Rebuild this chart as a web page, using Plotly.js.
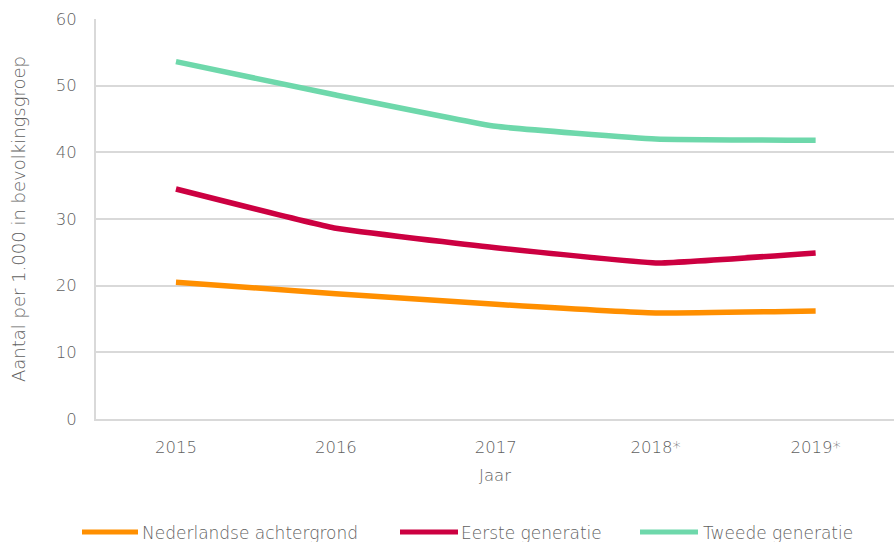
<!DOCTYPE html>
<html><head><meta charset="utf-8">
<script src="https://cdn.plot.ly/plotly-3.0.1.min.js"></script>
<style>body{margin:0}#c{width:894px;height:542px}</style>
</head><body><div id="c"></div>
<script>
const years = ['2015','2016','2017','2018*','2019*'];
const nederlandse = [20.5, 18.8, 17.2, 15.9, 16.2];
const eerste = [34.5, 28.6, 25.7, 23.4, 24.9];
const tweede = [53.6, 48.6, 43.9, 42.0, 41.8];
const names = ['Nederlandse achtergrond','Eerste generatie','Tweede generatie'];
const colors = ['#FF8F00','#CC0041','#6ED8AB'];
const series = [nederlandse, eerste, tweede];
const font = '"DejaVu Sans", sans-serif';
const txt = '#5f5f5f';
const W = 200;
const traces = series.map((s,i)=>({
  x: years, y: s, name: names[i], type:'scatter', mode:'lines', showlegend:false,
  line:{color:colors[i], width:5.5, shape:'spline', smoothing:0.3}
}));
// legend geometry (pixels)
const L = 96, PW = 798, T = 19, PH = 400;
const px = v => (v - L) / PW;
const py = v => (T + PH - v) / PH;
const legLine = [[82,138],[400,458],[640,698]];
const legText = [141, 460, 702];
const legY = 532;
const shapes = legLine.map((l,i)=>({type:'line', xref:'paper', yref:'paper',
  x0:px(l[0]), x1:px(l[1]), y0:py(legY), y1:py(legY), line:{color:colors[i], width:5}}));
const annotations = names.map((n,i)=>({text:n, xref:'paper', yref:'paper', x:px(legText[i]), y:py(legY+1),
  xanchor:'left', yanchor:'middle', showarrow:false, borderpad:0,
  font:{family:font, size:17, color:txt, weight:W}}));
Plotly.newPlot('c', traces, {
  width:894, height:542,
  margin:{l:96, r:0, t:19, b:123, autoexpand:false},
  paper_bgcolor:'#fff', plot_bgcolor:'#fff',
  font:{family:font, size:16, color:txt, weight:W},
  xaxis:{type:'category', range:[-0.5,4.49], showgrid:false, showline:true, linecolor:'#d9d9d9', linewidth:2,
    ticks:'', ticklabelstandoff:12, tickfont:{size:16.5, color:txt, weight:W}, automargin:false,
    title:{text:'Jaar', font:{size:16.5, color:txt, weight:W}, standoff:14}},
  yaxis:{range:[0,60], dtick:10, showgrid:true, gridcolor:'#d9d9d9', gridwidth:2, showline:true, linecolor:'#d9d9d9', linewidth:2,
    zeroline:false, ticks:'', ticklabelstandoff:14, tickfont:{size:16.5, color:txt, weight:W}, automargin:false,
    title:{text:'Aantal per 1.000 in bevolkingsgroep', font:{size:18, color:txt, weight:W}, standoff:25}},
  shapes: shapes, annotations: annotations,
  showlegend:false
}, {displayModeBar:false, staticPlot:true});
</script></body></html>
